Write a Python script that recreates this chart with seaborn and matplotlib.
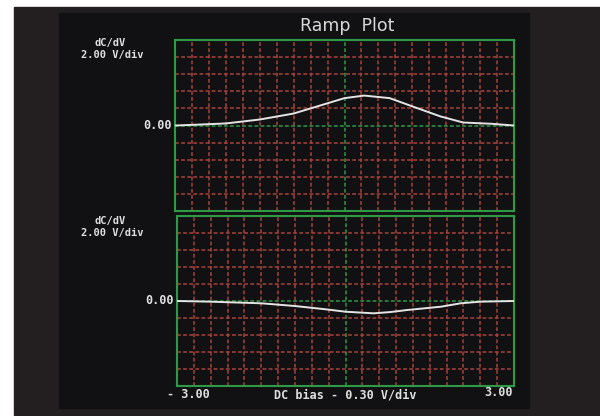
import numpy as np
import pandas as pd
import matplotlib
matplotlib.use('Agg')
import matplotlib.pyplot as plt
from matplotlib.patches import Rectangle
import seaborn as sns

# 읽어낸 곡선 값 (DC bias [V], dC/dV)
top_bias = [-3.0, -2.6, -2.1, -1.5, -0.9, -0.5, 0.0, 0.35, 0.8, 1.3, 1.7, 2.1, 2.6, 3.0]
top_dcdv = [0.0, 0.1, 0.24, 0.7, 1.4, 2.2, 3.2, 3.5, 3.2, 2.0, 1.06, 0.35, 0.2, 0.0]

bottom_bias = [-3.0, -2.4, -1.5, -0.9, -0.35, 0.0, 0.5, 0.8, 1.1, 1.7, 2.05, 2.4, 3.0]
bottom_dcdv = [0.0, -0.08, -0.27, -0.59, -0.98, -1.26, -1.45, -1.3, -1.06, -0.67, -0.27, -0.08, 0.0]

x_ticks = [-3.0, 3.0]
x_div = 0.30
y_div = 2.00

sns.set_theme(style='dark')
mono = ['DejaVu Sans Mono']

W, H = 600, 416
fig = plt.figure(figsize=(W / 100, H / 100), dpi=100, facecolor='white')


def fx(px):
    return px / W


def fy(py):
    return 1 - py / H


# 바깥 회색 영역과 안쪽 검은 패널
fig.add_artist(Rectangle((fx(14), fy(415)), fx(600) - fx(14), fy(7) - fy(415),
                         transform=fig.transFigure, color='#231f20', zorder=0))
fig.add_artist(Rectangle((fx(59), fy(408)), fx(529) - fx(59), fy(13) - fy(408),
                         transform=fig.transFigure, color='#111113', zorder=0))

GRID_RED = '#a8433a'
GREEN = '#2f9a46'
TRACE = '#e4e4e4'
DASH = (0, (2.5, 1.5))


def setup_axes(ax):
    ax.set_facecolor('#111113')
    ax.set_xlim(x_ticks[0], x_ticks[1])
    ax.set_ylim(-5 * y_div, 5 * y_div)
    for k in range(1, 20):
        if k == 10:
            continue
        ax.axvline(x_ticks[0] + k * x_div, color=GRID_RED, lw=1.1, ls=DASH, zorder=1)
    for k in range(1, 10):
        if k == 5:
            continue
        ax.axhline(-5 * y_div + k * y_div, color=GRID_RED, lw=1.1, ls=DASH, zorder=1)
    ax.axvline(0, color=GREEN, lw=1.1, ls=DASH, zorder=2)
    ax.axhline(0, color=GREEN, lw=1.1, ls=DASH, zorder=2)
    ax.set_xticks([])
    ax.set_yticks([])
    for s in ax.spines.values():
        s.set_visible(True)
        s.set_color(GREEN)
        s.set_linewidth(1.5)


ax_top = fig.add_axes([fx(175), fy(211), fx(514) - fx(175), fy(40) - fy(211)])
ax_bot = fig.add_axes([fx(177), fy(386), fx(514) - fx(177), fy(216) - fy(386)])

df_top = pd.DataFrame({'bias': top_bias, 'dcdv': top_dcdv})
df_bot = pd.DataFrame({'bias': bottom_bias, 'dcdv': bottom_dcdv})

for ax, d in [(ax_top, df_top), (ax_bot, df_bot)]:
    setup_axes(ax)
    sns.lineplot(data=d, x='bias', y='dcdv', ax=ax, color=TRACE, lw=1.4, zorder=3)
    ax.set_xlabel('')
    ax.set_ylabel('')
    ax.text(-0.01, 0.5, '0.00', transform=ax.transAxes, ha='right', va='center',
            color='#e0e0e0', fontsize=8.5, fontweight='bold', family=mono)

# 세로축 단위 라벨
for y1, y2 in [(43, 55), (221, 233)]:
    fig.text(fx(110), fy(y1), 'dC/dV', ha='center', va='center', color='#e0e0e0',
             fontsize=7.5, fontweight='bold', family=mono)
    fig.text(fx(112), fy(y2), f'{y_div:.2f} V/div', ha='center', va='center', color='#e0e0e0',
             fontsize=7.5, fontweight='bold', family=mono)

# 가로축 라벨
fig.text(fx(188), fy(394), f'- {abs(x_ticks[0]):.2f}', ha='center', va='center', color='#e0e0e0',
         fontsize=8.5, fontweight='bold', family=mono)
fig.text(fx(345), fy(395), f'DC bias - {x_div:.2f} V/div', ha='center', va='center',
         color='#e0e0e0', fontsize=8.5, fontweight='bold', family=mono)
fig.text(fx(513), fy(393), f'{x_ticks[1]:.2f}', ha='right', va='center', color='#e0e0e0',
         fontsize=8.5, fontweight='bold', family=mono)

fig.text(fx(347), fy(26), 'Ramp  Plot', ha='center', va='center', color='#d8d8d8',
         fontsize=12.5, family=['DejaVu Sans'])

fig.savefig('out.png', dpi=100, facecolor=fig.get_facecolor())
